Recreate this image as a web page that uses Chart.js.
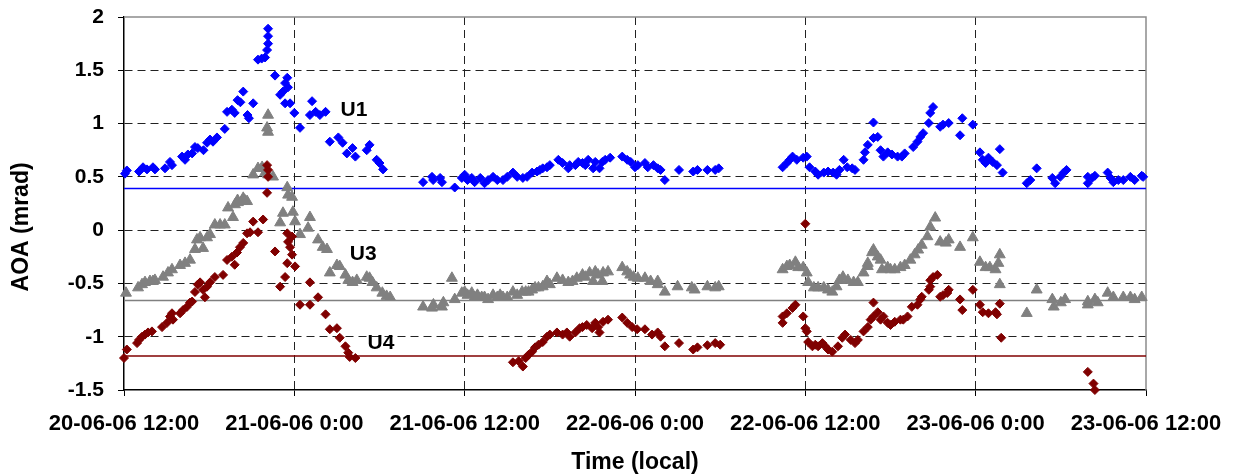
<!DOCTYPE html>
<html>
<head>
<meta charset="utf-8">
<title>AOA</title>
<script src="https://cdn.jsdelivr.net/npm/chart.js@4.4.1/dist/chart.umd.min.js"></script>
<style>
  html, body { margin: 0; padding: 0; background: #ffffff; }
  #wrap { width: 1233px; height: 476px; }
</style>
</head>
<body>
<div id="wrap"><canvas id="aoa" width="1233" height="476"></canvas></div>
<script>
// Time axis: hours elapsed since 20-06-06 12:00 (local)
const timeLabels = ['20-06-06 12:00', '21-06-06 0:00', '21-06-06 12:00', '22-06-06 0:00',
                    '22-06-06 12:00', '23-06-06 0:00', '23-06-06 12:00'];
const yTicks = [-1.5, -1, -0.5, 0, 0.5, 1, 1.5, 2];

// Reference (baseline) AOA levels, mrad
const refU1 = 0.39;
const refU3 = -0.66;
const refU4 = -1.18;

// U1 : [hours, AOA mrad]
const u1 = [
  [0.07,0.53],[0.2,0.56],[1.06,0.55],[1.34,0.59],[1.62,0.57],[2.04,0.59],[2.18,0.57],[2.89,0.58],
  [3.24,0.64],[3.38,0.61],[4.09,0.69],[4.3,0.66],[4.5,0.71],[4.8,0.72],[5.0,0.78],[5.2,0.77],
  [5.6,0.75],[5.85,0.82],[6.06,0.85],[6.27,0.83],[6.55,0.87],[7.1,0.95],[7.26,1.11],[7.6,1.13],
  [7.8,1.10],[8.0,1.22],[8.2,1.20],[8.4,1.30],[8.7,1.08],[8.8,1.05],[9.1,1.19],[9.44,1.60],
  [9.7,1.61],[9.94,1.62],[10.08,1.69],[10.15,1.75],[10.15,1.82],[10.15,1.89],[10.64,1.45],[11.0,1.27],
  [11.2,1.30],[11.35,1.38],[11.5,1.43],[11.55,1.34],[11.35,1.19],[11.7,1.19],[12.0,1.10],[12.4,0.96],
  [13.1,1.08],[13.25,1.21],[13.5,1.11],[13.8,1.08],[14.2,1.11],[14.5,0.83],[15.1,0.87],[15.4,0.82],
  [15.7,0.72],[16.1,0.77],[16.3,0.69],[17.1,0.75],[17.3,0.80],[17.8,0.66],[18.0,0.63],[18.25,0.57],
  [21.07,0.45],[21.7,0.50],[21.78,0.47],[22.27,0.49],[22.4,0.45],[23.3,0.40],[23.8,0.49],[24.0,0.52],
  [24.2,0.47],[24.5,0.49],[24.7,0.45],[25.1,0.49],[25.4,0.44],[25.65,0.47],[26.0,0.50],[26.3,0.47],
  [26.7,0.47],[27.0,0.50],[27.4,0.54],[27.7,0.50],[28.1,0.49],[28.4,0.50],[28.75,0.54],[29.1,0.55],
  [29.3,0.565],[29.5,0.58],[29.8,0.59],[30.0,0.61],[30.6,0.66],[30.9,0.63],[31.3,0.58],[31.4,0.61],
  [31.8,0.61],[32.0,0.64],[32.3,0.63],[32.5,0.61],[32.7,0.66],[33.05,0.58],[33.2,0.64],[33.5,0.58],
  [33.7,0.64],[33.9,0.66],[34.25,0.68],[35.1,0.69],[35.45,0.66],[35.7,0.64],[36.0,0.59],[36.2,0.61],
  [36.7,0.63],[36.9,0.59],[37.3,0.61],[37.6,0.58],[37.8,0.565],[38.1,0.47],[39.1,0.565],[40.1,0.55],
  [40.4,0.565],[41.1,0.565],[41.65,0.565],[41.9,0.58],
  [46.4,0.59],[46.7,0.63],[46.9,0.66],[47.1,0.69],[47.4,0.66],[47.85,0.68],[48.1,0.69],[48.3,0.59],
  [48.7,0.55],[48.9,0.52],[49.3,0.54],[49.6,0.55],[49.96,0.54],[50.2,0.52],[50.4,0.565],[50.7,0.66],
  [50.95,0.59],[51.3,0.58],[51.5,0.565],[52.1,0.66],[52.2,0.73],[52.4,0.80],[52.8,0.865],[52.8,1.01],
  [53.1,0.875],[53.3,0.75],[53.5,0.69],[53.8,0.73],[54.1,0.71],[54.5,0.69],[54.8,0.69],[55.0,0.72],
  [55.6,0.78],[55.9,0.83],[56.1,0.875],[56.3,0.91],[56.7,1.005],[56.8,1.10],[57.0,1.155],[57.5,0.97],
  [57.7,0.99],[58.1,1.005],[58.9,0.89],[59.06,1.05],[59.8,0.99],[60.3,0.73],[60.5,0.66],[60.7,0.63],
  [60.9,0.68],[61.2,0.64],[61.5,0.61],[61.7,0.76],[61.9,0.54],[63.6,0.44],[63.85,0.47],[64.3,0.58],
  [65.4,0.49],[65.6,0.44],[65.96,0.50],[66.2,0.54],[66.4,0.565],[67.9,0.50],[67.9,0.44],[68.2,0.49],
  [68.4,0.51],[69.3,0.54],[69.5,0.49],[69.7,0.45],[70.05,0.47],[70.4,0.47],[70.9,0.50],[71.2,0.47],
  [71.7,0.51],[71.8,0.50]
];

// U3 : [hours, AOA mrad]
const u3 = [
  [0.14,-0.59],[0.99,-0.54],[1.27,-0.51],[1.48,-0.49],[1.83,-0.48],[2.04,-0.48],[2.18,-0.47],[2.75,-0.44],
  [3.1,-0.40],[3.38,-0.37],[3.95,-0.33],[4.3,-0.31],[4.65,-0.28],[5.0,-0.18],[5.14,-0.09],[5.36,-0.07],
  [5.57,-0.17],[5.85,-0.07],[6.06,-0.04],[6.4,0.05],[6.77,0.05],[7.1,0.05],[7.33,0.21],[7.68,0.12],
  [7.82,0.24],[8.0,0.28],[8.03,0.26],[8.3,0.27],[8.4,0.30],[8.5,0.28],[8.67,0.27],[9.1,0.52],[9.44,0.58],
  [9.73,0.59],[9.94,0.54],[10.15,0.52],[10.5,0.50],[10.08,0.96],[10.15,0.92],[10.15,1.08],[11.0,0.07],
  [11.2,0.16],[11.5,0.40],[11.56,0.33],[11.84,0.31],[11.9,0.17],[12.05,0.08],[12.4,-0.04],[12.97,0.02],
  [13.1,0.12],[13.67,-0.09],[14.0,-0.16],[14.3,-0.18],[14.5,-0.40],[15.0,-0.33],[15.2,-0.34],[15.6,-0.42],
  [15.8,-0.47],[16.1,-0.49],[16.4,-0.47],[17.1,-0.44],[17.3,-0.45],[17.5,-0.49],[17.8,-0.54],[18.2,-0.59],
  [18.5,-0.62],[18.75,-0.63],
  [21.07,-0.72],[21.7,-0.73],[21.8,-0.70],[22.4,-0.72],[22.5,-0.68],[23.1,-0.45],[23.3,-0.65],[23.8,-0.59],
  [24.0,-0.58],[24.2,-0.61],[24.5,-0.59],[24.7,-0.63],[24.9,-0.61],[25.2,-0.63],[25.4,-0.63],[25.65,-0.65],
  [26.0,-0.61],[26.3,-0.63],[26.5,-0.61],[26.7,-0.63],[27.0,-0.63],[27.4,-0.58],[27.7,-0.61],[28.05,-0.58],
  [28.3,-0.58],[28.5,-0.58],[28.75,-0.56],[28.96,-0.54],[29.2,-0.54],[29.5,-0.53],[29.8,-0.48],[30.0,-0.51],
  [30.5,-0.45],[30.9,-0.47],[31.3,-0.49],[31.6,-0.48],[31.9,-0.45],[32.3,-0.42],[32.5,-0.44],[32.8,-0.40],
  [33.05,-0.48],[33.2,-0.39],[33.4,-0.42],[33.7,-0.48],[33.75,-0.40],[34.1,-0.39],[35.1,-0.35],[35.45,-0.39],
  [35.66,-0.42],[35.9,-0.44],[36.2,-0.45],[36.7,-0.45],[37.1,-0.48],[37.6,-0.48],[37.6,-0.51],[38.1,-0.58],
  [39.0,-0.53],[40.0,-0.54],[40.2,-0.56],[41.1,-0.53],[41.65,-0.54],[41.9,-0.53],
  [46.4,-0.37],[46.7,-0.34],[46.9,-0.33],[47.3,-0.30],[47.5,-0.35],[47.85,-0.35],[48.1,-0.40],[48.2,-0.49],
  [48.6,-0.54],[48.9,-0.54],[49.3,-0.54],[49.6,-0.56],[49.9,-0.58],[50.2,-0.53],[50.4,-0.47],[50.65,-0.44],
  [51.0,-0.47],[51.4,-0.49],[51.7,-0.49],[52.1,-0.40],[52.4,-0.34],[52.4,-0.31],[52.7,-0.21],[52.8,-0.185],
  [53.1,-0.25],[53.3,-0.28],[53.4,-0.37],[53.8,-0.35],[54.0,-0.37],[54.3,-0.37],[54.7,-0.35],[55.0,-0.33],
  [55.4,-0.28],[55.7,-0.23],[55.95,-0.185],[56.2,-0.14],[56.6,-0.06],[56.8,0.03],[57.15,0.115],[57.5,-0.11],
  [57.9,-0.12],[58.1,-0.09],[58.9,-0.16],[59.8,-0.07],[60.3,-0.30],[60.7,-0.35],[61.0,-0.35],[61.4,-0.37],
  [61.6,-0.31],[61.7,-0.23],[61.7,-0.51],[63.6,-0.78],[64.3,-0.56],[65.4,-0.65],[65.5,-0.72],[66.0,-0.68],
  [66.3,-0.65],[67.9,-0.67],[67.9,-0.70],[68.4,-0.65],[68.6,-0.68],[69.3,-0.59],[69.7,-0.63],[70.4,-0.63],
  [70.9,-0.63],[71.2,-0.65],[71.7,-0.63]
];

// U4 : [hours, AOA mrad]
const u4 = [
  [0.0,-1.20],[0.2,-1.12],[0.92,-1.06],[1.06,-1.03],[1.27,-1.00],[1.48,-0.98],[1.69,-0.96],[1.97,-0.95],
  [2.68,-0.91],[3.03,-0.87],[3.24,-0.81],[3.38,-0.78],[3.45,-0.84],[3.95,-0.78],[4.16,-0.75],[4.44,-0.72],
  [4.65,-0.68],[4.8,-0.67],[5.0,-0.58],[5.2,-0.51],[5.36,-0.49],[5.57,-0.56],[5.7,-0.63],[5.85,-0.53],
  [6.06,-0.49],[6.4,-0.44],[6.98,-0.42],[7.26,-0.28],[7.6,-0.25],[7.8,-0.325],[7.96,-0.21],[8.17,-0.16],
  [8.4,-0.12],[8.67,-0.03],[8.88,-0.02],[9.1,0.08],[9.44,-0.02],[9.8,0.10],[10.08,0.61],[10.15,0.565],
  [10.15,0.50],[10.08,0.35],[10.64,-0.20],[11.0,-0.53],[11.35,-0.44],[11.5,-0.31],[11.84,-0.23],[12.05,-0.34],
  [11.5,-0.03],[11.56,-0.11],[11.84,-0.06],[11.7,-0.16],[12.4,-0.70],[13.1,-0.70],[13.1,-0.49],[13.67,-0.63],
  [14.2,-0.79],[14.5,-0.93],[15.0,-0.92],[15.2,-1.01],[15.6,-1.09],[15.8,-1.15],[15.9,-1.19],[16.3,-1.20],
  [27.4,-1.24],[27.8,-1.23],[28.1,-1.28],[28.3,-1.20],[28.5,-1.17],[28.75,-1.14],[28.96,-1.10],[29.2,-1.075],
  [29.5,-1.05],[29.8,-1.00],[30.0,-0.98],[30.5,-0.96],[30.9,-0.98],[31.2,-0.96],[31.4,-1.00],[31.8,-0.96],
  [32.1,-0.92],[32.3,-0.91],[32.6,-0.89],[32.98,-0.92],[33.2,-0.87],[33.4,-0.91],[33.5,-0.96],[33.75,-0.86],
  [34.1,-0.84],[35.1,-0.82],[35.45,-0.87],[35.8,-0.91],[36.15,-0.93],[36.7,-0.93],[37.2,-0.98],[37.6,-0.96],
  [37.8,-1.00],[38.1,-1.09],[39.1,-1.06],[40.1,-1.12],[40.4,-1.10],[41.1,-1.08],[41.65,-1.06],[42.0,-1.075],
  [46.4,-0.87],[46.4,-0.81],[46.7,-0.78],[47.1,-0.73],[47.3,-0.70],[48.0,0.06],[47.85,-0.81],[48.0,-0.92],
  [48.1,-0.95],[48.2,-1.05],[48.5,-1.09],[48.7,-1.075],[48.9,-1.09],[49.2,-1.06],[49.4,-1.09],[49.6,-1.12],
  [49.9,-1.14],[50.3,-1.09],[50.6,-1.01],[50.8,-0.98],[51.2,-1.03],[51.5,-1.06],[51.7,-1.03],[52.1,-0.95],
  [52.4,-0.91],[52.6,-0.84],[52.8,-0.81],[52.8,-0.68],[53.1,-0.77],[53.3,-0.84],[53.5,-0.81],[53.8,-0.87],
  [54.0,-0.89],[54.3,-0.86],[54.7,-0.84],[54.9,-0.84],[55.2,-0.81],[55.5,-0.72],[55.9,-0.70],[56.1,-0.65],
  [56.2,-0.625],[56.7,-0.56],[56.8,-0.47],[57.0,-0.44],[57.3,-0.42],[56.8,-0.53],[57.5,-0.625],[57.7,-0.61],
  [58.0,-0.59],[58.1,-0.56],[58.9,-0.65],[59.06,-0.75],[59.8,-0.56],[60.3,-0.70],[60.5,-0.77],[60.9,-0.78],
  [61.4,-0.77],[61.5,-0.79],[61.7,-0.69],[61.8,-1.01],[67.9,-1.33],[68.3,-1.44],[68.4,-1.50]
];

// Curve tags and the y-axis title, anchored in data units
const seriesTags = [
  { text: 'U1', h: 16.2, v: 1.13 },
  { text: 'U3', h: 16.85, v: -0.23 },
  { text: 'U4', h: 18.1, v: -1.06 }
];
const yTitle = 'AOA (mrad)';
const yTitleAt = 0.03;

const FONT = '"Liberation Sans", Arial, Helvetica, sans-serif';
const toPoints = arr => arr.map(([h, v]) => ({ x: h, y: v }));
const level = v => [{ x: 0, y: v }, { x: 72, y: v }];

const marker = (color, style, r) => ({
  showLine: false,
  clip: false,
  pointStyle: style,
  pointRadius: r,
  pointHoverRadius: r,
  pointBorderWidth: 1,
  backgroundColor: color,
  borderColor: color
});
const refLine = color => ({
  showLine: true,
  pointRadius: 0,
  pointHoverRadius: 0,
  borderColor: color,
  borderWidth: 1.5,
  fill: false
});

const decorations = {
  id: 'decorations',
  beforeDatasetsDraw(chart) {
    const { ctx, chartArea: a } = chart;
    ctx.save();
    ctx.strokeStyle = '#8c8c8c';
    ctx.lineWidth = 1.5;
    ctx.beginPath();
    ctx.moveTo(a.left, a.top);
    ctx.lineTo(a.right, a.top);
    ctx.lineTo(a.right, a.bottom);
    ctx.stroke();
    ctx.restore();
  },
  afterDatasetsDraw(chart) {
    const { ctx, scales: { x, y } } = chart;
    ctx.save();
    ctx.fillStyle = '#000';
    ctx.textAlign = 'center';
    ctx.textBaseline = 'middle';
    ctx.font = 'bold 21px ' + FONT;
    seriesTags.forEach(t => ctx.fillText(t.text, x.getPixelForValue(t.h), y.getPixelForValue(t.v)));
    ctx.translate(22, y.getPixelForValue(yTitleAt));
    ctx.rotate(-Math.PI / 2);
    ctx.font = 'bold 23px ' + FONT;
    ctx.fillText(yTitle, 0, 0);
    ctx.restore();
  }
};

new Chart(document.getElementById('aoa'), {
  type: 'scatter',
  data: {
    datasets: [
      Object.assign({ label: 'U1', data: toPoints(u1) }, marker('#0000ff', 'rectRot', 4.5)),
      Object.assign({ label: 'U4', data: toPoints(u4) }, marker('#800000', 'rectRot', 4.5)),
      Object.assign({ label: 'U3', data: toPoints(u3) }, marker('#808080', 'triangle', 6.3)),
      Object.assign({ label: 'U1 ref', data: level(refU1) }, refLine('#0000ff')),
      Object.assign({ label: 'U3 ref', data: level(refU3) }, refLine('#808080')),
      Object.assign({ label: 'U4 ref', data: level(refU4) }, refLine('#800000'))
    ]
  },
  options: {
    responsive: false,
    devicePixelRatio: 1,
    animation: false,
    events: [],
    layout: { padding: { top: 17, right: 87, bottom: 0, left: 0 } },
    plugins: { legend: { display: false }, tooltip: { enabled: false } },
    scales: {
      x: {
        type: 'linear',
        min: 0,
        max: 72,
        afterFit: s => { s.height = 86; s.paddingLeft = 0; s.paddingRight = 0; },
        afterBuildTicks: s => { s.ticks = timeLabels.map((_, i) => ({ value: i * 12 })); },
        ticks: {
          autoSkip: false,
          maxRotation: 0,
          padding: 15,
          color: '#000',
          font: { family: FONT, size: 22, weight: 'bold' },
          callback: v => timeLabels[Math.round(v / 12)]
        },
        grid: {
          color: c => (c.tick && (c.tick.value === 0 || c.tick.value === 72)) ? 'rgba(0,0,0,0)' : '#222',
          lineWidth: 1,
          tickColor: '#000',
          tickLength: 6,
          tickWidth: 1
        },
        border: { display: true, color: '#000', width: 1.5, dash: [8, 5] },
        title: {
          display: true,
          text: 'Time (local)',
          color: '#000',
          font: { family: FONT, size: 23, weight: 'bold' },
          padding: { top: 0, bottom: 0 }
        }
      },
      y: {
        type: 'linear',
        min: -1.5,
        max: 2,
        afterFit: s => { s.width = 124; s.paddingTop = 0; s.paddingBottom = 0; },
        afterBuildTicks: s => { s.ticks = yTicks.map(v => ({ value: v })); },
        ticks: {
          padding: 14,
          color: '#000',
          font: { family: FONT, size: 21, weight: 'bold' },
          callback: v => String(v)
        },
        grid: {
          color: c => (c.tick && (c.tick.value === -1.5 || c.tick.value === 2)) ? 'rgba(0,0,0,0)' : '#222',
          lineWidth: 1,
          tickColor: '#000',
          tickLength: 6,
          tickWidth: 1
        },
        border: { display: true, color: '#000', width: 1.5, dash: [8, 5] }
      }
    }
  },
  plugins: [decorations]
});
</script>
</body>
</html>
